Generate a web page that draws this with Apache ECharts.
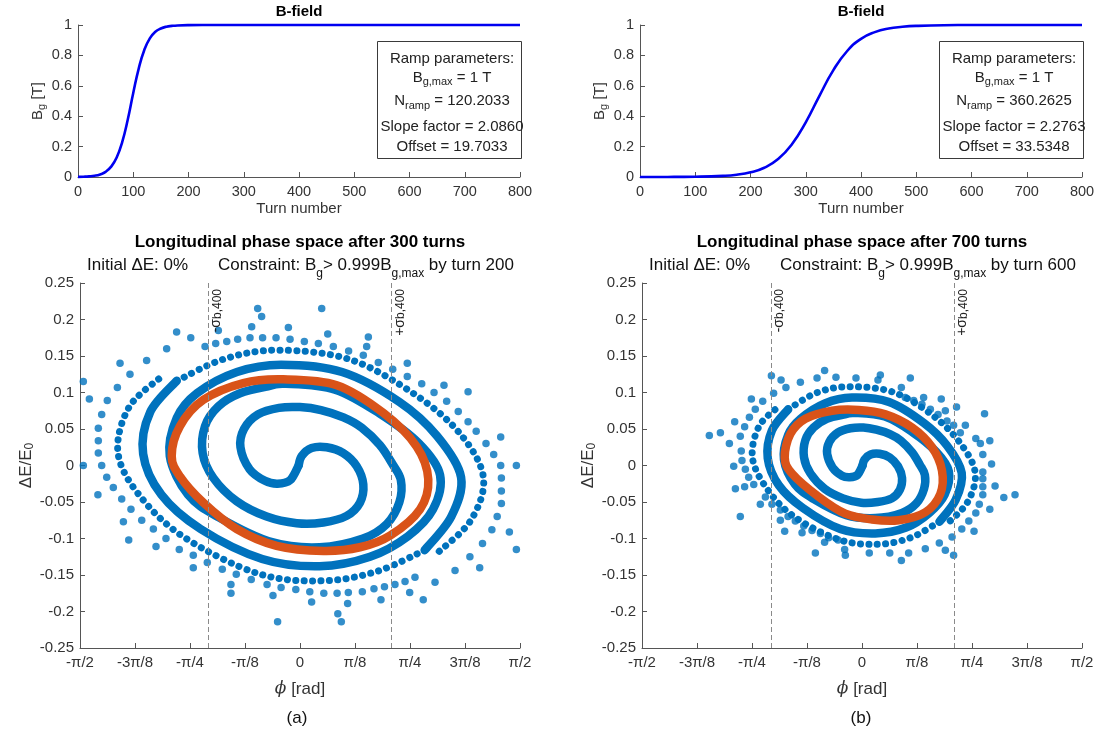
<!DOCTYPE html>
<html>
<head>
<meta charset="utf-8">
<script src="https://cdn.jsdelivr.net/npm/echarts/dist/echarts.min.js"></script>
<style>html,body{margin:0;padding:0;background:#fff}#c{width:1101px;height:734px}</style>
</head>
<body>
<div id="c"></div>
<script>
// ---------------- DATA ----------------
const turnsA  = [0,10,20,30,40,50,60,70,80,90,100,110,120,130,140,150,160,170,180,200,250,300,400,500,600,700,800];
const bFieldA = [0.001,0.002,0.004,0.008,0.017,0.034,0.068,0.128,0.23,0.377,0.553,0.715,0.836,0.912,0.955,0.977,0.989,0.994,0.997,0.999,1,1,1,1,1,1,1];
const turnsB  = [0,50,100,150,175,200,225,250,275,300,325,350,375,400,425,450,475,500,550,600,700,800];
const bFieldB = [0.0001,0.0004,0.002,0.0075,0.015,0.031,0.061,0.118,0.216,0.36,0.536,0.703,0.829,0.909,0.953,0.977,0.988,0.994,0.9987,0.9997,1,1];

const bTicks = ['0','0.2','0.4','0.6','0.8','1'];
const piTickLabels = ['-π/2','-3π/8','-π/4','-π/8','0','π/8','π/4','3π/8','π/2'];

const sigmaA = [-0.655, 0.655];
const sigmaB = [-0.65, 0.66];

// panel (a): phase space after 300 turns
const armA_a = [[-0.01,0.0],[-0.07,-0.02],[-0.16,-0.025],[-0.25,-0.021],[-0.36,-0.005],[-0.425,0.025],[-0.40,0.05],[-0.30,0.07],[-0.15,0.079],[0.0,0.08],[0.15,0.076],[0.31,0.066],[0.44,0.052],[0.57,0.028],[0.66,0.002],[0.72,-0.02],[0.71,-0.05],[0.62,-0.08],[0.45,-0.10],[0.14,-0.112],[-0.20,-0.105],[-0.58,-0.071],[-0.80,-0.04],[-0.93,0.013],[-0.88,0.065],[-0.735,0.099],[-0.45,0.128],[-0.135,0.138],[0.30,0.128],[0.71,0.087],[0.98,0.04],[1.15,-0.016],[1.08,-0.07],[0.89,-0.116]];
const beadA_a = [[0.89,-0.116],[0.55,-0.145],[0.16,-0.158],[-0.30,-0.148],[-0.83,-0.098],[-1.15,-0.04],[-1.30,0.018],[-1.22,0.08],[-0.98,0.123]];
const armB_a = [[-0.01,0.0],[0.012,0.013],[0.083,0.024],[0.19,0.025],[0.309,0.017],[0.405,-0.001],[0.452,-0.026],[0.428,-0.051],[0.333,-0.069],[0.167,-0.078],[-0.024,-0.079],[-0.238,-0.07],[-0.452,-0.049],[-0.619,-0.017],[-0.695,0.017],[-0.678,0.054],[-0.583,0.081],[-0.428,0.099],[-0.214,0.109],[-0.10,0.112],[0.25,0.104],[0.57,0.071],[0.85,0.03],[1.00,-0.013],[0.95,-0.06],[0.77,-0.097],[0.50,-0.125],[0.14,-0.138],[-0.27,-0.128],[-0.71,-0.087],[-0.99,-0.04],[-1.12,0.016],[-1.07,0.073],[-0.88,0.116]];
const beadB_a = [[-0.88,0.116],[-0.54,0.146],[-0.16,0.158],[0.36,0.145],[0.83,0.096],[1.15,0.042],[1.31,-0.017],[1.22,-0.075],[0.98,-0.12]];
const ring_a = [[-0.916,0.013],[-0.857,0.054],[-0.69,0.09],[-0.405,0.113],[-0.119,0.118],[0.262,0.110],[0.595,0.072],[0.833,0.026],[0.916,-0.019],[0.857,-0.06],[0.643,-0.096],[0.428,-0.112],[0.167,-0.117],[-0.167,-0.110],[-0.452,-0.087],[-0.69,-0.051],[-0.857,-0.015]];
const dots_a = [[-1.547,0.115],[-1.504,0.091],[-1.547,0.0],[-1.44,0.051],[-1.44,0.034],[-1.44,0.017],[-1.416,0.07],[-1.416,0.0],[-1.376,0.089],[-1.38,-0.016],[-1.333,-0.03],[-1.443,-0.04],[-1.304,0.107],[-1.285,0.14],[-1.214,0.125],[-1.095,0.144],[-0.952,0.16],[-0.881,0.183],[-0.78,0.175],
[-1.273,-0.046],[-1.207,-0.06],[-1.261,-0.077],[-1.13,-0.075],[-1.223,-0.102],[-1.047,-0.087],[-1.028,-0.111],[-0.957,-0.1],[-0.862,-0.115],[-0.762,-0.123],[-0.762,-0.14],[-0.662,-0.133],[-0.555,-0.142],[-0.493,-0.163],[-0.493,-0.175],[-0.455,-0.149],[-0.348,-0.156],[-0.235,-0.163],[-0.193,-0.178],[-0.16,-0.214],[-0.135,-0.167],[-0.03,-0.17],[0.07,-0.173],[0.083,-0.187],[0.17,-0.175],[0.265,-0.175],[0.27,-0.203],[0.295,-0.214],[0.345,-0.174],[0.34,-0.189],[0.445,-0.173],[0.528,-0.169],[0.578,-0.184],[0.603,-0.166],[0.678,-0.163],[0.75,-0.159],[0.783,-0.174],[0.821,-0.153],[0.88,-0.184],[0.964,-0.16],[1.107,-0.144],[1.213,-0.125],[1.283,-0.14],[1.303,-0.107],[1.37,-0.088],[1.408,-0.07],[1.438,-0.052],[1.438,-0.035],[1.438,-0.017],[1.495,-0.091],[1.545,-0.115],
[1.545,0.0],[1.433,0.0],[1.433,0.039],[1.383,0.015],[1.328,0.03],[1.258,0.047],[1.2,0.06],[1.2,0.101],[1.13,0.074],[1.047,0.088],[1.028,0.11],[0.957,0.1],[0.869,0.112],[0.766,0.122],[0.766,0.14],[0.662,0.132],[0.559,0.141],[0.452,0.151],[0.476,0.163],[0.488,0.176],[0.347,0.157],[0.238,0.163],[0.198,0.18],[0.155,0.215],[0.131,0.167],[0.031,0.17],[-0.071,0.173],[-0.083,0.189],[-0.171,0.175],[-0.267,0.175],[-0.274,0.204],[-0.302,0.215],[-0.345,0.19],[-0.357,0.175],[-0.445,0.173],[-0.523,0.17],[-0.583,0.185],[-0.602,0.167],[-0.678,0.163]];

// panel (b): phase space after 700 turns
const armA_b = [[0.004,0],[-0.033,-0.013],[-0.088,-0.016],[-0.143,-0.014],[-0.21,-0.003],[-0.249,0.016],[-0.234,0.032],[-0.173,0.045],[-0.082,0.051],[0.01,0.052],[0.102,0.049],[0.199,0.043],[0.278,0.034],[0.358,0.018],[0.413,0.001],[0.449,-0.013],[0.443,-0.032],[0.388,-0.052],[0.285,-0.065],[0.095,-0.072],[-0.112,-0.068],[-0.344,-0.046],[-0.478,-0.026],[-0.557,0.008],[-0.527,0.042],[-0.438,0.064],[-0.265,0.085],[-0.072,0.093],[0.193,0.087],[0.443,0.058],[0.608,0.027],[0.712,-0.01],[0.669,-0.047],[0.553,-0.077]];
const beadA_b = [[0.553,-0.077],[0.346,-0.099],[0.108,-0.108],[-0.173,-0.101],[-0.5,-0.068],[-0.692,-0.028],[-0.783,0.012],[-0.734,0.054],[-0.588,0.082]];
const armB_b = [[0.004,0],[0.017,0.008],[0.061,0.015],[0.126,0.016],[0.198,0.011],[0.257,-0.001],[0.286,-0.017],[0.271,-0.033],[0.213,-0.045],[0.112,-0.05],[-0.005,-0.051],[-0.135,-0.045],[-0.266,-0.032],[-0.368,-0.011],[-0.414,0.011],[-0.404,0.035],[-0.346,0.052],[-0.251,0.064],[-0.121,0.07],[-0.051,0.072],[0.163,0.067],[0.358,0.046],[0.529,0.019],[0.62,-0.008],[0.59,-0.04],[0.48,-0.065],[0.315,-0.085],[0.095,-0.093],[-0.155,-0.087],[-0.423,-0.058],[-0.594,-0.027],[-0.673,0.01],[-0.643,0.048],[-0.527,0.077]];
const beadB_b = [[-0.527,0.077],[-0.319,0.1],[-0.088,0.108],[0.23,0.1],[0.516,0.067],[0.712,0.028],[0.809,-0.011],[0.754,-0.05],[0.608,-0.08]];
const ring_b = [[-0.552,0.011],[-0.512,0.043],[-0.405,0.064],[-0.214,0.075],[-0.024,0.076],[0.167,0.07],[0.357,0.052],[0.5,0.025],[0.571,-0.007],[0.559,-0.039],[0.452,-0.064],[0.262,-0.075],[0.071,-0.074],[-0.119,-0.066],[-0.309,-0.043],[-0.5,-0.011]];
const dots_b = [[-0.647,0.123],[-0.578,0.117],[-0.543,0.107],[-0.44,0.114],[-0.321,0.12],[-0.267,0.13],[-0.186,0.121],[-0.043,0.12],[0.114,0.117],[0.131,0.124],[0.281,0.107],[0.345,0.12],[0.44,0.093],[0.566,0.091],[0.595,0.075],[0.738,0.055],
[-0.631,0.099],[0.309,0.093],[0.369,0.089],[0.428,0.084],[0.488,0.077],[0.543,0.07],[0.607,0.061],[0.654,0.055],[0.702,0.045],
[-1.09,0.041],[-1.011,0.045],[-0.947,0.03],[-0.909,0.06],[-0.916,-0.001],[-0.869,0.04],[-0.862,0.02],[-0.838,0.053],[-0.804,0.066],[-0.79,0.091],[-0.762,0.077],[-0.709,0.088],[-0.857,0.007],[-0.833,-0.005],[-0.904,-0.032],[-0.838,-0.029],[-0.809,-0.016],[-0.869,-0.07],[-0.773,-0.026],[-0.726,-0.053],[-0.69,-0.043],[-0.643,-0.053],[-0.583,-0.061],[-0.583,-0.075],[-0.552,-0.09],[-0.528,-0.07],[-0.476,-0.076],[-0.428,-0.092],[-0.416,-0.083],[-0.357,-0.089],[-0.297,-0.093],[-0.267,-0.105],[-0.333,-0.12],[-0.238,-0.099],[-0.171,-0.102],[-0.124,-0.115],[-0.119,-0.123],[0.052,-0.12],[0.198,-0.12],[0.281,-0.13],[0.333,-0.12],[0.452,-0.114],[0.552,-0.106],[0.595,-0.116],[0.643,-0.098],[0.654,-0.123],
[0.675,0.08],[0.8125,0.037],[0.845,0.03],[0.875,0.071],[0.9125,0.034],[0.8625,0.015],[0.925,0.002],[0.8625,-0.009],[0.8625,-0.018],[0.8625,-0.029],[0.95,-0.028],[0.8625,-0.04],[0.8375,-0.053],[0.9125,-0.06],[1.0125,-0.044],[1.0925,-0.04],[0.8125,-0.065],[0.7625,-0.076],[0.8,-0.09],[0.7125,-0.087]];

// ---------------- STYLE / BUILD ----------------
const FONT = '"Liberation Sans", Arial, Helvetica, sans-serif';
const BLUE = '#0072BD', ORANGE = '#D95319', LINEBLUE = '#0000F0';
const AX = '#555', TXT = '#333';

function pairs(xs, ys){ return xs.map((x,i)=>[x, ys[i]]); }
function numFmt(v){ return String(+(+v).toFixed(2)); }

// Catmull-Rom curve through pixel points (rendering of the read points, no new data)
function crPath(P, closed){
  const n = P.length;
  const get = i => closed ? P[(i + n) % n] : P[Math.max(0, Math.min(n - 1, i))];
  let d = 'M' + P[0][0] + ' ' + P[0][1];
  const segs = closed ? n : n - 1;
  for (let i = 0; i < segs; i++){
    const p0 = get(i-1), p1 = get(i), p2 = get(i+1), p3 = get(i+2);
    const c1x = p1[0] + (p2[0]-p0[0])/6, c1y = p1[1] + (p2[1]-p0[1])/6;
    const c2x = p2[0] - (p3[0]-p1[0])/6, c2y = p2[1] - (p3[1]-p1[1])/6;
    d += ' C' + c1x + ' ' + c1y + ' ' + c2x + ' ' + c2y + ' ' + p2[0] + ' ' + p2[1];
  }
  if (closed) d += ' Z';
  return d;
}
function curveSeries(idx, pts, color, width, dash, closed){
  return {
    type:'custom', coordinateSystem:'cartesian2d', xAxisIndex:idx, yAxisIndex:idx,
    data:pts, encode:{x:0, y:1}, clip:false, silent:true, z:2,
    renderItem:(params, api) => {
      if (params.dataIndex !== 0) return null;
      const P = pts.map(p => api.coord(p));
      const style = {fill:null, stroke:color, lineWidth:width, lineCap:'round', lineJoin:'round'};
      if (dash) style.lineDash = dash;
      return {type:'path', shape:{pathData:crPath(P, closed)}, style};
    }
  };
}

function axisBase(fs){
  return {
    axisLine:{show:true, onZero:false, lineStyle:{color:AX, width:1}},
    axisTick:{show:true, inside:true, length:5, lineStyle:{color:AX, width:1}},
    axisLabel:{color:TXT, fontSize:fs, fontFamily:FONT, margin:7},
    splitLine:{show:false}
  };
}
function nameRich(fsMain, fsSub, lhMain, lhSub){
  return {
    m:{fontSize:fsMain, fontFamily:FONT, color:TXT, lineHeight:lhMain},
    i:{fontSize:fsMain, fontFamily:'"DejaVu Serif", serif', fontStyle:'italic', color:TXT, lineHeight:lhMain},
    s:{fontSize:fsSub, fontFamily:FONT, color:TXT, lineHeight:lhSub, verticalAlign:'bottom'}
  };
}

const grids = [
  {left:78, top:25, width:442, height:152},
  {left:640, top:25, width:442, height:152},
  {left:80, top:283, width:440, height:365},
  {left:642, top:283, width:440, height:365}
];
grids.forEach(g=>{ g.containLabel=false; g.outerBoundsMode='none'; });

const xAxes = [], yAxes = [];
[0,1].forEach(gi=>{
  xAxes.push(Object.assign(axisBase(14.5), {
    gridIndex:gi, type:'value', min:0, max:800, interval:100,
    name:'Turn number', nameLocation:'middle', nameGap:24,
    nameTextStyle:{color:TXT, fontSize:15, fontFamily:FONT}
  }));
  const ya = Object.assign(axisBase(14.5), {
    gridIndex:gi, type:'value', min:0, max:1, interval:0.2,
    name:'{m|B}{s|g}{m| [T]}', nameLocation:'middle', nameGap:31, nameRotate:90,
    nameTextStyle:{rich:nameRich(15,11,18,8)}
  });
  ya.axisLabel.margin = 6;
  ya.axisLabel.formatter = v => bTicks[Math.round(v/0.2)];
  yAxes.push(ya);
});
[2,3].forEach(gi=>{
  const xa = Object.assign(axisBase(15), {
    gridIndex:gi, type:'value', min:-Math.PI/2, max:Math.PI/2, interval:Math.PI/8,
    name:'{i|ϕ}{m| [rad]}', nameLocation:'middle', nameGap:31,
    nameTextStyle:{rich:nameRich(17,12,20,8)}
  });
  xa.axisLabel.formatter = v => piTickLabels[Math.round(v/(Math.PI/8))+4];
  xAxes.push(xa);
  const ya = Object.assign(axisBase(15), {
    gridIndex:gi, type:'value', min:-0.25, max:0.25, interval:0.05,
    name:'{m|ΔE/E}{s|0}', nameLocation:'middle', nameGap:41, nameRotate:90,
    nameTextStyle:{rich:nameRich(17,12,20,8)}
  });
  ya.axisLabel.margin = 6;
  ya.axisLabel.formatter = numFmt;
  yAxes.push(ya);
});

function sigmaMark(sig){
  return {
    silent:true, symbol:['none','none'], animation:false,
    lineStyle:{color:'#8a8a8a', width:1, type:[5,3]},
    label:{show:true, position:'insideEndBottom', distance:[6, 1],
      formatter: p => (p.dataIndex===0 ? '{m|-σ}' : '{m|+σ}') + '{s|b,400}',
      rich:{
        m:{fontSize:14, fontFamily:FONT, color:'#222', lineHeight:14},
        s:{fontSize:12, fontFamily:FONT, color:'#222', lineHeight:4, verticalAlign:'bottom'}
      }},
    data:[
      [{coord:[sig[0],-0.25]},{coord:[sig[0],0.25]}],
      [{coord:[sig[1],-0.25]},{coord:[sig[1],0.25]}]
    ]
  };
}
function dotsSeries(idx, data, sig){
  return {type:'scatter', xAxisIndex:idx, yAxisIndex:idx, data, symbol:'circle', symbolSize:7.5,
    itemStyle:{color:BLUE}, silent:true, z:3, markLine:sigmaMark(sig)};
}

const BEAD = [0.1, 8.3];
const series = [
  {type:'line', xAxisIndex:0, yAxisIndex:0, data:pairs(turnsA,bFieldA), smooth:0.5,
    showSymbol:false, symbol:'none', clip:false, lineStyle:{color:LINEBLUE, width:2.6}, silent:true},
  {type:'line', xAxisIndex:1, yAxisIndex:1, data:pairs(turnsB,bFieldB), smooth:0.5,
    showSymbol:false, symbol:'none', clip:false, lineStyle:{color:LINEBLUE, width:2.6}, silent:true},
  curveSeries(2, armA_a, BLUE, 8.5, null, false),
  curveSeries(2, armB_a, BLUE, 8.5, null, false),
  curveSeries(2, beadA_a, BLUE, 7, BEAD, false),
  curveSeries(2, beadB_a, BLUE, 7, BEAD, false),
  curveSeries(2, ring_a, ORANGE, 8.5, null, true),
  dotsSeries(2, dots_a, sigmaA),
  curveSeries(3, armA_b, BLUE, 8.5, null, false),
  curveSeries(3, armB_b, BLUE, 8.5, null, false),
  curveSeries(3, beadA_b, BLUE, 7, BEAD, false),
  curveSeries(3, beadB_b, BLUE, 7, BEAD, false),
  curveSeries(3, ring_b, ORANGE, 8.5, null, true),
  dotsSeries(3, dots_b, sigmaB)
];

// ---------------- TEXTS ----------------
function plain(x, y, text, size, opts){
  return {type:'text', x, y, silent:true, z:10,
    style:Object.assign({text, fontSize:size, fontFamily:FONT, fill:'#222', align:'center', verticalAlign:'middle'}, opts||{})};
}
function richText(x, y, text, rich, opts){
  return {type:'text', x, y, silent:true, z:10,
    style:Object.assign({text, rich, fontSize:15, fontFamily:FONT, fill:'#222', align:'center', verticalAlign:'middle'}, opts||{})};
}
const boxRich = {
  m:{fontSize:15, fontFamily:FONT, fill:'#222', color:'#222', lineHeight:20},
  s:{fontSize:11, fontFamily:FONT, fill:'#222', color:'#222', lineHeight:7, verticalAlign:'bottom'}
};
const subRich = {
  m:{fontSize:17, fontFamily:FONT, fill:'#111', color:'#111', lineHeight:30},
  s:{fontSize:12, fontFamily:FONT, fill:'#111', color:'#111', lineHeight:9, verticalAlign:'bottom'}
};

const boxParams = [
  {x:377, cx:452, n:'120.2033', slope:'2.0860', off:'19.7033', title:299},
  {x:939, cx:1014, n:'360.2625', slope:'2.2763', off:'33.5348', title:861}
];
const phaseParams = [
  {cx:300, l1:87, l2:218, turns:'300', by:'200', tag:'(a)', tagx:297},
  {cx:862, l1:649, l2:780, turns:'700', by:'600', tag:'(b)', tagx:861}
];

const elements = [];
boxParams.forEach(b=>{
  elements.push(plain(b.title, 12, 'B-field', 15, {fontWeight:'bold', fill:'#000'}));
  elements.push({type:'rect', silent:true, z:9, shape:{x:b.x+0.5, y:41.5, width:144, height:117},
    style:{fill:'#fff', stroke:'#3a3a3a', lineWidth:1}});
  elements.push(plain(b.cx, 58.5, 'Ramp parameters:', 15));
  elements.push(richText(b.cx, 77.5, '{m|B}{s|g,max}{m| = 1 T}', boxRich));
  elements.push(richText(b.cx, 101, '{m|N}{s|ramp}{m| = ' + b.n + '}', boxRich));
  elements.push(plain(b.cx, 126.5, 'Slope factor = ' + b.slope, 15));
  elements.push(plain(b.cx, 146.5, 'Offset = ' + b.off, 15));
});
phaseParams.forEach(p=>{
  elements.push(plain(p.cx, 242, 'Longitudinal phase space after ' + p.turns + ' turns', 17, {fontWeight:'bold', fill:'#000'}));
  elements.push(plain(p.l1, 265, 'Initial ΔE: 0%', 17, {align:'left', fill:'#111'}));
  elements.push(richText(p.l2, 265, '{m|Constraint: B}{s|g}{m|> 0.999B}{s|g,max}{m| by turn ' + p.by + '}', subRich, {align:'left'}));
  elements.push(plain(p.tagx, 718, p.tag, 17, {fill:'#111'}));
});

const chart = echarts.init(document.getElementById('c'), null, {renderer:'canvas'});
chart.setOption({
  animation:false,
  backgroundColor:'#ffffff',
  grid:grids,
  xAxis:xAxes,
  yAxis:yAxes,
  series,
  graphic:{elements}
});
</script>
</body>
</html>
